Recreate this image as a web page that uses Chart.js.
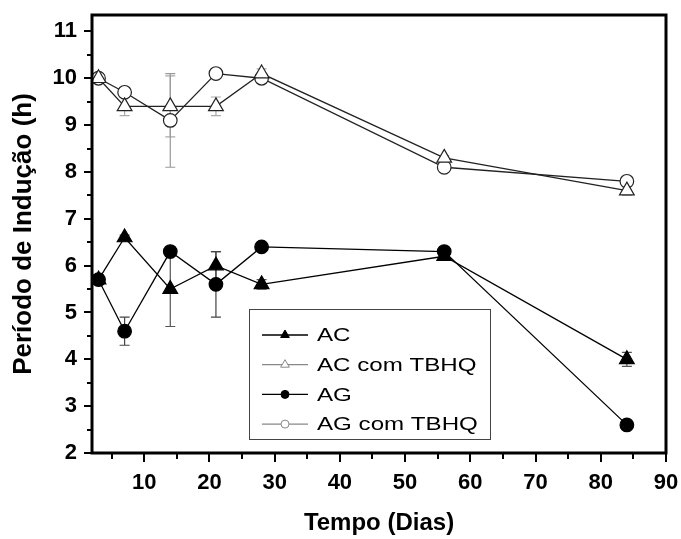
<!DOCTYPE html>
<html lang="pt">
<head>
    <meta charset="UTF-8">
    <title>Período de Indução</title>
    <style>
        body {
            margin: 0;
            background: #fff;
        }
        #wrap {
            width: 681px;
            height: 539px;
        }
    </style>
    <script src="https://cdn.jsdelivr.net/npm/chart.js"></script>
</head>
<body>

<div id="wrap"><canvas id="chart" width="681" height="539"></canvas></div>

<script>
    // days of storage
    const dias = [3, 7, 14, 21, 28, 56, 84];

    // induction period (h) per sample
    const ac        = [5.7, 6.6, 5.5, 6.0, 5.6, 6.2, 4.0];
    const acTbhq    = [10.0, 9.4, 9.4, 9.4, 10.1, 8.3, 7.6];
    const ag        = [5.7, 4.6, 6.3, 5.6, 6.4, 6.3, 2.6];
    const agTbhq    = [10.0, 9.7, 9.1, 10.1, 10.0, 8.1, 7.8];

    // standard deviations (error bars)
    const acErr     = [0.1, 0.05, 0.8, 0.3, 0.1, 0.05, 0.15];
    const acTbhqErr = [0.1, 0.2, 0.65, 0.2, 0.1, 0.05, 0.1];
    const agErr     = [0.1, 0.3, 0.05, 0.7, 0.05, 0.05, 0.05];
    const agTbhqErr = [0.05, 0.05, 1.0, 0.05, 0.1, 0.05, 0.05];

    // axis ticks
    const xTicks = [10, 20, 30, 40, 50, 60, 70, 80, 90];
    const yTicks = [2, 3, 4, 5, 6, 7, 8, 9, 10, 11];

    const LEFT = 92, RIGHT_PAD = 15, TOP_PAD = 15, BOTTOM = 453;

    function pts(ys) {
        return dias.map((d, i) => ({x: d, y: ys[i]}));
    }

    // error bars drawn through the chart scales
    const errorBars = {
        id: 'errorBars',
        beforeDatasetsDraw(chart) {
            const ctx = chart.ctx;
            const xs = chart.scales.x, ys = chart.scales.y;
            chart.data.datasets.forEach(ds => {
                ctx.save();
                ctx.strokeStyle = ds.errColor;
                ctx.lineWidth = 1.2;
                ds.data.forEach((p, i) => {
                    const e = ds.err[i];
                    const px = xs.getPixelForValue(p.x);
                    const top = ys.getPixelForValue(p.y + e);
                    const bot = ys.getPixelForValue(p.y - e);
                    ctx.beginPath();
                    ctx.moveTo(px, top); ctx.lineTo(px, bot);
                    ctx.moveTo(px - 5, top); ctx.lineTo(px + 5, top);
                    ctx.moveTo(px - 5, bot); ctx.lineTo(px + 5, bot);
                    ctx.stroke();
                });
                ctx.restore();
            });
        }
    };

    // frame and outward ticks (major + minor)
    const frameTicks = {
        id: 'frameTicks',
        afterDraw(chart) {
            const ctx = chart.ctx;
            const a = chart.chartArea;
            const xs = chart.scales.x, ys = chart.scales.y;
            ctx.save();
            ctx.strokeStyle = '#000';
            ctx.lineWidth = 2;
            for (let v = 5; v <= 90; v += 5) {
                const px = Math.round(xs.getPixelForValue(v));
                const len = v % 10 === 0 ? 9 : 6;
                ctx.beginPath();
                ctx.moveTo(px, a.bottom); ctx.lineTo(px, a.bottom + len);
                ctx.stroke();
            }
            for (let v = 2; v <= 11; v += 0.5) {
                const py = Math.round(ys.getPixelForValue(v));
                const len = Number.isInteger(v) ? 8 : 5;
                ctx.beginPath();
                ctx.moveTo(a.left, py); ctx.lineTo(a.left - len, py);
                ctx.stroke();
            }
            ctx.lineWidth = 3;
            ctx.strokeRect(a.left, a.top, a.right - a.left, a.bottom - a.top);
            ctx.restore();
        }
    };

    // boxed legend inside the plot
    const boxLegend = {
        id: 'boxLegend',
        afterDraw(chart) {
            const ctx = chart.ctx;
            const bx = 249, by = 309, bw = 241, bh = 130;
            ctx.save();
            ctx.fillStyle = '#fff';
            ctx.fillRect(bx, by, bw, bh);
            ctx.strokeStyle = '#444';
            ctx.lineWidth = 1;
            ctx.strokeRect(bx + 0.5, by + 0.5, bw, bh);
            chart.data.datasets.forEach((ds, i) => {
                const y = by + 26 + i * 29.7;
                ctx.strokeStyle = ds.legendLine;
                ctx.lineWidth = 1.3;
                ctx.beginPath();
                ctx.moveTo(bx + 13, y); ctx.lineTo(bx + 59, y);
                ctx.stroke();
                ctx.fillStyle = ds.pointBackgroundColor;
                ctx.strokeStyle = ds.legendLine;
                ctx.lineWidth = 1;
                const mx = bx + 36;
                ctx.beginPath();
                if (ds.pointStyle === 'triangle') {
                    const r = 5;
                    ctx.moveTo(mx, y - r);
                    ctx.lineTo(mx + r * 0.87, y + r * 0.5);
                    ctx.lineTo(mx - r * 0.87, y + r * 0.5);
                    ctx.closePath();
                } else {
                    ctx.arc(mx, y, 4, 0, Math.PI * 2);
                }
                ctx.fill();
                ctx.stroke();
                ctx.save();
                ctx.translate(bx + 68, y);
                ctx.scale(1.27, 1);
                ctx.fillStyle = '#000';
                ctx.font = '19px "Liberation Sans", Arial, sans-serif';
                ctx.textBaseline = 'middle';
                ctx.fillText(ds.label, 0, 1);
                ctx.restore();
            });
            ctx.restore();
        }
    };

    const tickFont = {family: '"Liberation Sans", Arial, sans-serif', size: 22, weight: 'bold'};

    new Chart(document.getElementById('chart'), {
        type: 'line',
        data: {
            datasets: [
                {
                    label: 'AC', data: pts(ac), err: acErr, errColor: '#555',
                    borderColor: '#000', legendLine: '#000', pointStyle: 'triangle',
                    pointRadius: 8.5, pointBackgroundColor: '#000', pointBorderColor: '#000'
                },
                {
                    label: 'AC com TBHQ', data: pts(acTbhq), err: acTbhqErr, errColor: '#aaa',
                    borderColor: '#222', legendLine: '#888', pointStyle: 'triangle',
                    pointRadius: 8.5, pointBackgroundColor: '#fff', pointBorderColor: '#222'
                },
                {
                    label: 'AG', data: pts(ag), err: agErr, errColor: '#444',
                    borderColor: '#000', legendLine: '#000', pointStyle: 'circle',
                    pointRadius: 6.8, pointBackgroundColor: '#000', pointBorderColor: '#000'
                },
                {
                    label: 'AG com TBHQ', data: pts(agTbhq), err: agTbhqErr, errColor: '#999',
                    borderColor: '#222', legendLine: '#888', pointStyle: 'circle',
                    pointRadius: 6.8, pointBackgroundColor: '#fff', pointBorderColor: '#222'
                }
            ]
        },
        options: {
            responsive: false,
            animation: false,
            layout: {padding: {left: 0, right: RIGHT_PAD, top: TOP_PAD, bottom: 0}},
            elements: {
                line: {borderWidth: 1.3, tension: 0},
                point: {borderWidth: 1.2, hoverRadius: 7}
            },
            plugins: {
                legend: {display: false},
                tooltip: {enabled: false}
            },
            scales: {
                x: {
                    type: 'linear',
                    min: 2, max: 90,
                    grid: {display: false},
                    border: {display: false},
                    afterBuildTicks: s => { s.ticks = xTicks.map(v => ({value: v})); },
                    afterFit: s => { s.height = 539 - BOTTOM; s.paddingRight = 0; s.paddingLeft = 0; },
                    ticks: {color: '#000', font: tickFont, padding: 9, maxRotation: 0},
                    title: {
                        display: true, text: 'Tempo (Dias)', color: '#000',
                        font: {family: '"Liberation Sans", Arial, sans-serif', size: 24, weight: 'bold'},
                        padding: {top: 0, bottom: 1}
                    }
                },
                y: {
                    min: 2, max: 11.35,
                    grid: {display: false},
                    border: {display: false},
                    afterBuildTicks: s => { s.ticks = yTicks.map(v => ({value: v})); },
                    afterFit: s => { s.width = LEFT; s.paddingTop = 0; s.paddingBottom = 0; },
                    ticks: {color: '#000', font: tickFont, padding: 7},
                    title: {
                        display: true, text: 'Período de Indução (h)', color: '#000',
                        font: {family: '"Liberation Sans", Arial, sans-serif', size: 26, weight: 'bold'},
                        padding: {top: 8, bottom: 0}
                    }
                }
            }
        },
        plugins: [errorBars, frameTicks, boxLegend]
    });
</script>

</body>
</html>
